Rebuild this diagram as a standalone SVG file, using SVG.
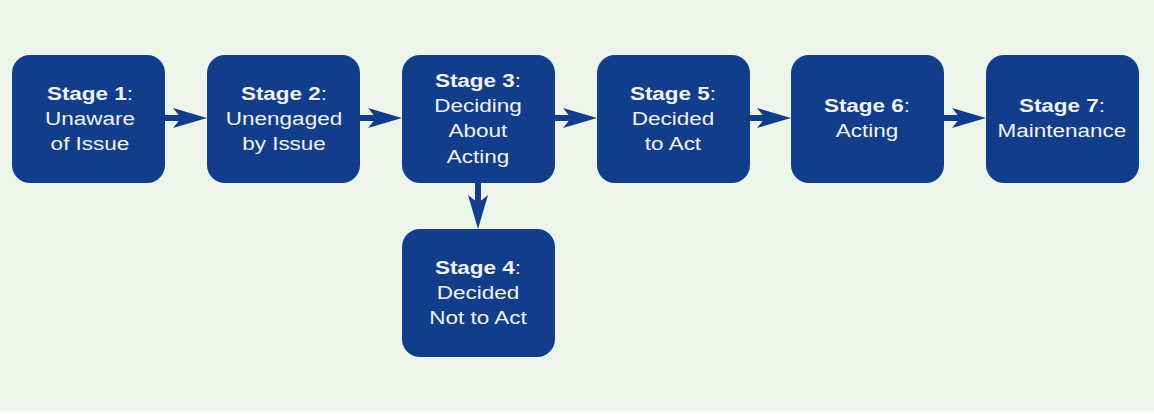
<svg xmlns="http://www.w3.org/2000/svg" width="1154" height="414" viewBox="0 0 1154 414">
<style>
.box{fill:#123d8b;}
.t{font-family:"Liberation Sans",Arial,sans-serif;font-size:18px;fill:#f2f2f2;text-anchor:middle;}
.b{font-weight:bold;}
.conn{stroke:#123d8b;stroke-width:6;fill:none;}
.head{fill:#123d8b;}
</style>
<rect x="0" y="0" width="1154" height="414" fill="#edf5eb"/>
<rect x="0" y="411" width="1154" height="3" fill="#ffffff"/>
<defs>
<path id="ah" d="M0,0 L-34,-10 L-26,0 L-34,10 Z"/>
</defs>
<g id="connectors">
<line class="conn" x1="165" y1="118" x2="184" y2="118"/>
<use href="#ah" class="head" x="207" y="118"/>
<line class="conn" x1="360" y1="118" x2="379" y2="118"/>
<use href="#ah" class="head" x="402" y="118"/>
<line class="conn" x1="555" y1="118" x2="574" y2="118"/>
<use href="#ah" class="head" x="597" y="118"/>
<line class="conn" x1="750" y1="118" x2="768" y2="118"/>
<use href="#ah" class="head" x="791" y="118"/>
<line class="conn" x1="944" y1="118" x2="963" y2="118"/>
<use href="#ah" class="head" x="986" y="118"/>
<line class="conn" x1="478" y1="183" x2="478" y2="206"/>
<use href="#ah" class="head" transform="translate(478,229) rotate(90)"/>
</g>
<g id="stage1">
<rect class="box" x="12" y="55" width="153" height="128" rx="18"/>
<g transform="translate(90,0) scale(1.25,1)">
<text class="t" x="0" y="100"><tspan class="b">Stage 1</tspan>:</text>
<text class="t" x="0" y="125">Unaware</text>
<text class="t" x="0" y="150">of Issue</text>
</g>
</g>
<g id="stage2">
<rect class="box" x="207" y="55" width="153" height="128" rx="18"/>
<g transform="translate(284,0) scale(1.25,1)">
<text class="t" x="0" y="100"><tspan class="b">Stage 2</tspan>:</text>
<text class="t" x="0" y="125">Unengaged</text>
<text class="t" x="0" y="150">by Issue</text>
</g>
</g>
<g id="stage3">
<rect class="box" x="402" y="55" width="153" height="128" rx="18"/>
<g transform="translate(478,0) scale(1.25,1)">
<text class="t" x="0" y="87"><tspan class="b">Stage 3</tspan>:</text>
<text class="t" x="0" y="112">Deciding</text>
<text class="t" x="0" y="137">About</text>
<text class="t" x="0" y="163">Acting</text>
</g>
</g>
<g id="stage4">
<rect class="box" x="402" y="229" width="153" height="128" rx="18"/>
<g transform="translate(478,0) scale(1.25,1)">
<text class="t" x="0" y="274"><tspan class="b">Stage 4</tspan>:</text>
<text class="t" x="0" y="299">Decided</text>
<text class="t" x="0" y="324">Not to Act</text>
</g>
</g>
<g id="stage5">
<rect class="box" x="597" y="55" width="153" height="128" rx="18"/>
<g transform="translate(673,0) scale(1.25,1)">
<text class="t" x="0" y="100"><tspan class="b">Stage 5</tspan>:</text>
<text class="t" x="0" y="125">Decided</text>
<text class="t" x="0" y="150">to Act</text>
</g>
</g>
<g id="stage6">
<rect class="box" x="791" y="55" width="153" height="128" rx="18"/>
<g transform="translate(867,0) scale(1.25,1)">
<text class="t" x="0" y="112"><tspan class="b">Stage 6</tspan>:</text>
<text class="t" x="0" y="137">Acting</text>
</g>
</g>
<g id="stage7">
<rect class="box" x="986" y="55" width="153" height="128" rx="18"/>
<g transform="translate(1062,0) scale(1.25,1)">
<text class="t" x="0" y="112"><tspan class="b">Stage 7</tspan>:</text>
<text class="t" x="0" y="137">Maintenance</text>
</g>
</g>
</svg>
